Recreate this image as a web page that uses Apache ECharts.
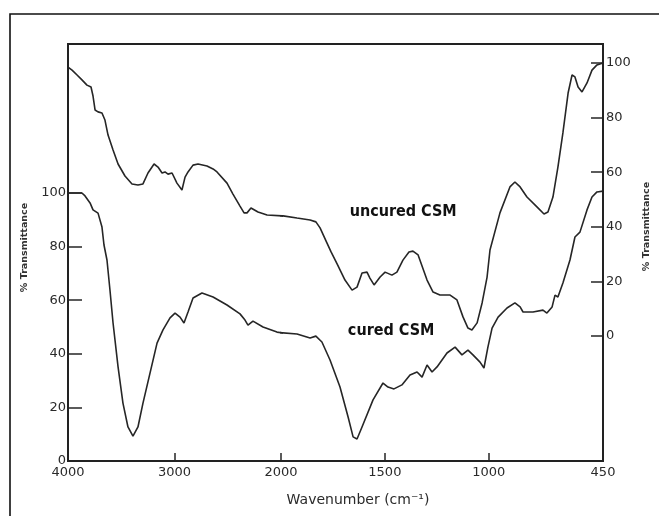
<!DOCTYPE html>
<html>
<head>
<meta charset="utf-8">
<script src="https://cdn.jsdelivr.net/npm/echarts@6/dist/echarts.min.js"></script>
<style>
  html, body { margin: 0; padding: 0; background: #fff; }
  #chart { width: 659px; height: 516px; }
</style>
</head>
<body>
<div id="chart"></div>
<script>
// ---- data ----
const curedWavenumber = [4000,3944,3869,3840,3793,3765,3718,3700,3681,3662,3634,3606,3577,3530,3484,3437,3390,3343,3296,3230,3164,3108,3042,2995,2948,2911,2873,2826,2742,2638,2507,2385,2338,2310,2263,2169,2038,1923,1860,1832,1803,1764,1716,1677,1653,1634,1610,1557,1509,1485,1456,1418,1379,1345,1321,1297,1273,1249,1201,1162,1129,1100,1076,1042,1023,1004,984,955,912,874,849,835,787,739,720,695,681,667,643,609,585,561,527,503,479,450];
const curedTransmittance = [100,100,100,98.9,96.3,93.7,92.5,92.2,87.3,80.6,75.0,63.8,51.5,35.1,21.6,12.7,9.3,12.7,21.6,32.8,44.0,48.9,53.4,55.2,53.7,51.5,55.6,60.8,62.7,61.2,58.2,54.9,52.6,50.7,52.2,50.0,48.1,47.4,45.9,46.6,44.4,37.7,27.6,16.4,9.0,8.2,12.7,22.8,29.1,27.6,26.9,28.4,32.1,33.2,31.3,35.8,33.2,35.1,40.3,42.5,39.6,41.4,39.6,36.9,34.7,42.5,49.6,53.7,57.1,59.0,57.5,55.6,55.6,56.3,55.2,57.5,61.9,61.2,66.4,75.0,83.6,85.4,93.7,98.5,100.4,100.7];

const uncuredWavenumber = [4000,3962,3915,3869,3822,3784,3765,3746,3718,3681,3653,3624,3577,3530,3465,3399,3343,3296,3249,3192,3155,3117,3089,3061,3023,2977,2930,2901,2873,2826,2779,2695,2638,2601,2507,2451,2385,2347,2319,2282,2216,2131,1990,1923,1860,1832,1812,1779,1759,1730,1692,1658,1634,1610,1586,1572,1552,1523,1499,1466,1442,1413,1384,1365,1340,1297,1268,1235,1186,1153,1124,1100,1081,1056,1032,1008,994,946,898,874,849,816,768,734,715,691,667,643,618,599,585,570,551,527,503,479,450];
const uncuredTransmittance = [98.5,97.4,95.6,93.8,91.9,91.2,87.9,82.8,82.1,81.7,79.1,73.6,68.1,63.0,58.6,55.7,55.3,55.7,59.7,63.0,61.9,59.7,60.1,59.3,59.7,56.0,53.5,58.2,60.1,62.6,63.0,62.3,61.2,60.1,56.0,52.0,47.6,45.1,45.1,46.9,45.4,44.3,44.0,43.2,42.5,41.8,39.6,34.1,30.8,26.4,20.5,16.8,17.9,23.1,23.4,21.2,18.7,21.6,23.4,22.3,23.4,27.8,30.8,31.1,29.7,20.5,16.1,15.0,15.0,13.2,7.0,2.9,2.2,4.8,12.1,21.6,31.5,45.1,54.6,56.4,54.6,50.9,47.3,44.7,45.4,50.9,61.9,74.4,89.0,95.6,94.9,91.2,89.4,92.7,97.4,99.3,100];

const xTicksHigh = [4000, 3000, 2000];   // 4000-2000 section (compressed scale)
const xTicksLow = [1500, 1000, 450];     // 2000-450 section (expanded scale)
const yTicks = [0, 20, 40, 60, 80, 100];
const seriesNames = ['cured CSM', 'uncured CSM'];
const xTitle = 'Wavenumber (cm\u207B\u00B9)';
const yTitle = '% Transmittance';

// ---- chart ----
const pair = (xs, ys) => xs.map((x, i) => [x, ys[i]]);
const curedData = pair(curedWavenumber, curedTransmittance);
const uncuredData = pair(uncuredWavenumber, uncuredTransmittance);

const ink = '#262626';
const plain = (v) => String(v);
const labelFont = { fontFamily: '"DejaVu Sans", sans-serif', fontSize: 13, color: '#2a2a2a', formatter: plain };
const titleFont = { fontFamily: '"DejaVu Sans", sans-serif', fontSize: 9.5, fontWeight: 'bold', color: '#333' };
const annFont = { fontFamily: '"DejaVu Sans Condensed", "Liberation Sans", sans-serif', fontSize: 16, fontWeight: 'bold', color: '#111' };

const curedRange = { min: 0, max: 155.6 };
const uncuredRange = { min: -45.79, max: 106.96 };

const chart = echarts.init(document.getElementById('chart'), null, { renderer: 'canvas' });
chart.setOption({
  animation: false,
  backgroundColor: '#fff',
  title: {
    text: xTitle, left: 353, top: 488, textAlign: 'center',
    textStyle: { fontFamily: '"DejaVu Sans", sans-serif', fontSize: 14, fontWeight: 'normal', color: '#2a2a2a' }
  },
  graphic: [{
    type: 'rect', silent: true, z: 100,
    shape: { x: 10, y: 14, width: 700, height: 600 },
    style: { fill: null, stroke: '#111', lineWidth: 1.6 }
  }],
  grid: [
    { left: 68, top: 44, width: 213, height: 417 },
    { left: 281, top: 44, width: 322, height: 417 },
    { left: 68, top: 44, width: 535, height: 417, show: true, borderColor: '#222', borderWidth: 2, backgroundColor: 'transparent', z: 5 }
  ],
  xAxis: [
    { gridIndex: 0, type: 'value', min: 2000, max: 4000, inverse: true, position: 'bottom',
      axisLine: { show: false }, splitLine: { show: false },
      axisTick: { show: true, inside: true, length: 8, customValues: [3000, 2000], lineStyle: { color: ink, width: 1.5 } },
      axisLabel: { customValues: xTicksHigh, margin: 5, ...labelFont } },
    { gridIndex: 1, type: 'value', min: 450, max: 2000, inverse: true, position: 'bottom',
      axisLine: { show: false }, splitLine: { show: false },
      axisTick: { show: true, inside: true, length: 8, customValues: [1500, 1000], lineStyle: { color: ink, width: 1.5 } },
      axisLabel: { customValues: xTicksLow, margin: 5, ...labelFont } },
    { gridIndex: 2, type: 'value', min: 0, max: 1, show: false }
  ],
  yAxis: [
    { gridIndex: 0, type: 'value', position: 'left', ...curedRange,
      axisLine: { show: false }, splitLine: { show: false },
      axisTick: { show: true, inside: true, length: 14, customValues: [20, 40, 60, 80, 100], lineStyle: { color: ink, width: 1.5 } },
      axisLabel: { customValues: yTicks, margin: 2, ...labelFont },
      name: yTitle, nameLocation: 'middle', nameRotate: 90, nameGap: 38,
      nameTextStyle: { ...titleFont, padding: [0, 0, 0, 10] } },
    { gridIndex: 0, type: 'value', ...uncuredRange, show: false },
    { gridIndex: 1, type: 'value', ...curedRange, show: false },
    { gridIndex: 1, type: 'value', position: 'right', ...uncuredRange,
      axisLine: { show: false }, splitLine: { show: false },
      axisTick: { show: true, inside: true, length: 12, customValues: yTicks, lineStyle: { color: ink, width: 1.5 } },
      axisLabel: { customValues: yTicks, margin: 3, ...labelFont },
      name: yTitle, nameLocation: 'middle', nameRotate: 90, nameGap: 39,
      nameTextStyle: { ...titleFont, padding: [0, 0, 0, 52] } },
    { gridIndex: 2, type: 'value', min: 0, max: 1, show: false }
  ],
  series: [
    { name: seriesNames[0], type: 'line', xAxisIndex: 0, yAxisIndex: 0, data: curedData,
      showSymbol: false, clip: true, lineStyle: { color: ink, width: 1.6 } },
    { name: seriesNames[1], type: 'line', xAxisIndex: 0, yAxisIndex: 1, data: uncuredData,
      showSymbol: false, clip: true, lineStyle: { color: ink, width: 1.6 } },
    { name: seriesNames[0], type: 'line', xAxisIndex: 1, yAxisIndex: 2, data: curedData,
      showSymbol: false, clip: true, lineStyle: { color: ink, width: 1.6 },
      markPoint: { symbol: 'circle', symbolSize: 0, silent: true,
        data: [{ coord: [1470, 48.7], label: { show: true, position: 'inside', formatter: seriesNames[0], ...annFont } }] } },
    { name: seriesNames[1], type: 'line', xAxisIndex: 1, yAxisIndex: 3, data: uncuredData,
      showSymbol: false, clip: true, lineStyle: { color: ink, width: 1.6 },
      markPoint: { symbol: 'circle', symbolSize: 0, silent: true,
        data: [{ coord: [1412, 45.5], label: { show: true, position: 'inside', formatter: seriesNames[1], ...annFont } }] } }
  ]
});
</script>
</body>
</html>
